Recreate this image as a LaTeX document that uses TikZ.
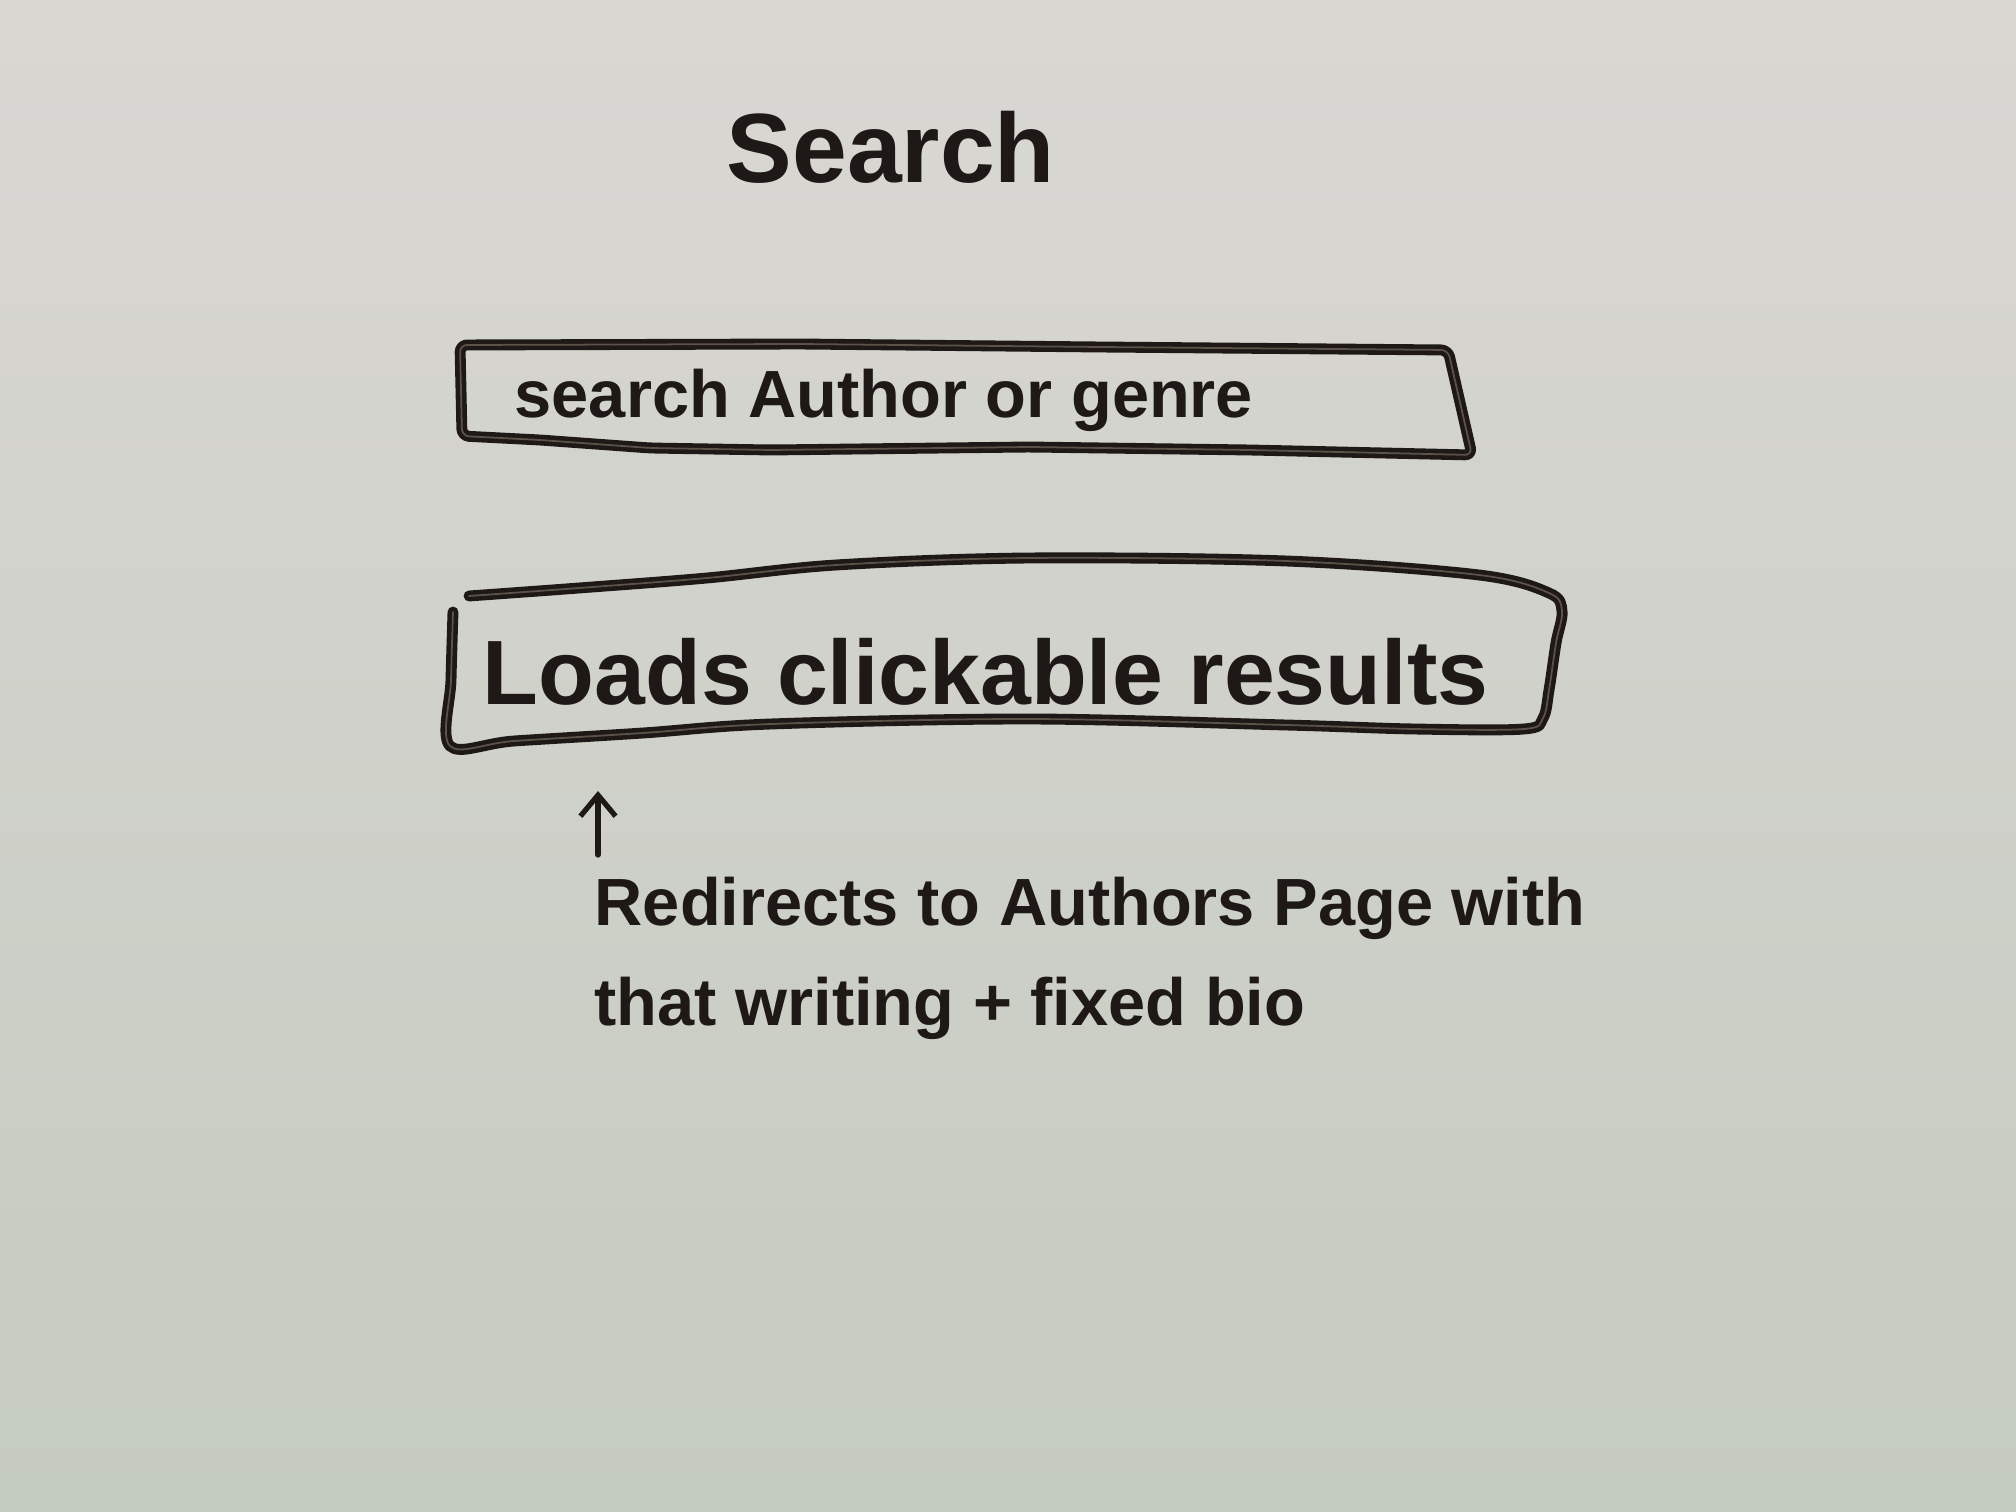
\documentclass[tikz,border=0pt]{standalone}
\usepackage{fontspec}
\setmainfont{Liberation Sans}
\usetikzlibrary{arrows.meta}
\definecolor{ink}{RGB}{30,25,22}
\definecolor{inkmid}{RGB}{92,82,74}
\definecolor{wbtop}{RGB}{218,215,211}
\definecolor{wbmid}{RGB}{208,207,202}
\definecolor{wbbottom}{RGB}{196,203,192}
\begin{document}
\begin{tikzpicture}[x=0.1mm, y=-0.1mm, line cap=round, line join=round,
    marker/.style={draw=ink, line width=1.3pt, double=inkmid, double distance=0.5pt},
    scrawl/.style={ink, anchor=base west, inner sep=0pt, font=\bfseries}]
            \shade[top color=wbtop, middle color=wbmid, bottom color=wbbottom] (0,0) rectangle (2016,1512);
            \useasboundingbox (0,0) rectangle (2016,1512);
            \node [scrawl, font=\bfseries\fontsize{28}{32}\selectfont] (Title) at (726,183) {Search};
            \node [scrawl, font=\bfseries\fontsize{19}{23}\selectfont] (SearchBar) at (514,418) {search Author or genre};
            \node [scrawl, font=\bfseries\fontsize{26}{30}\selectfont] (Results) at (482,705) {Loads clickable results};
            \node [scrawl, font=\bfseries\fontsize{19}{28.2}\selectfont, align=left] (Redirect) at (594,1025) {Redirects to Authors Page with\\that writing + fixed bio};
            \coordinate (ArrowTail) at (598,855);
            \coordinate (ArrowTip) at (598,791);
            \draw [marker, rounded corners=2pt] (460,345) -- (462,436) -- (540,440) -- (650,448) -- (771,450) -- (1029,447) -- (1250,450) -- (1472,455) -- (1448,350) -- (1100,347) -- (800,344) -- cycle;
            \draw [marker] plot [smooth, tension=0.55] coordinates {(453,612) (451,680) (450,746) (514,741) (643,733) (771,724) (1029,719) (1286,725) (1414,729) (1524,729) (1543,718) (1549,690) (1556,643) (1562,611) (1549,593) (1479,575) (1286,561) (1029,558) (836,565) (707,578) (579,588) (469,596)};
            \draw [ink, line width=1.5pt, -{Straight Barb[length=6pt, width=10pt]}] (ArrowTail) -- (ArrowTip);
        \end{tikzpicture}
\end{document}
